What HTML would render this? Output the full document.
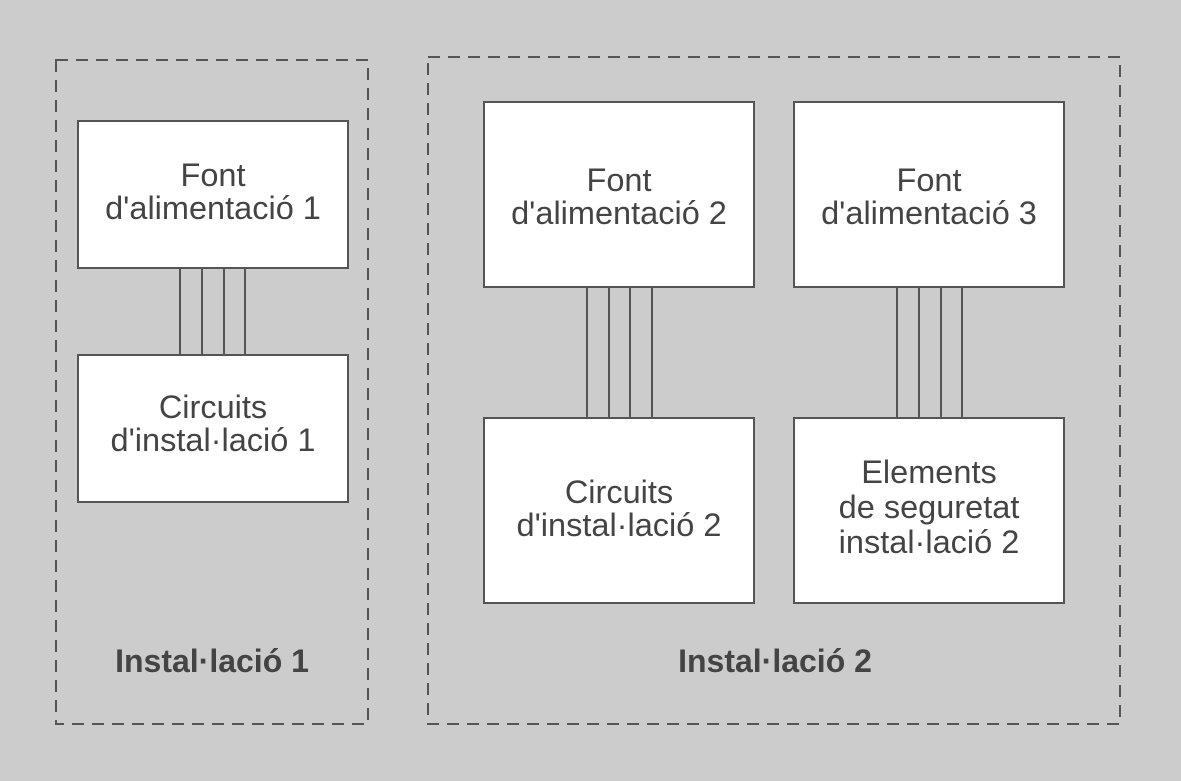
<!DOCTYPE html>
<html><head><meta charset="utf-8"><style>
html,body{margin:0;padding:0;background:#cccccc;}
svg{display:block;}
text{font-family:"Liberation Sans",sans-serif;fill:#444;}
</style></head><body>
<svg width="1181" height="781" viewBox="0 0 1181 781" xmlns="http://www.w3.org/2000/svg">
<rect width="1181" height="781" fill="#cccccc"/>
<g fill="none" stroke="#555" stroke-width="2" stroke-dasharray="12,8">
<rect x="56" y="60" width="312" height="664"/>
<rect x="428" y="57" width="692" height="667"/>
</g>
<g stroke="#555" stroke-width="2">
<line x1="180" y1="268" x2="180" y2="355"/><line x1="202" y1="268" x2="202" y2="355"/><line x1="224" y1="268" x2="224" y2="355"/><line x1="245" y1="268" x2="245" y2="355"/>
<line x1="587" y1="287" x2="587" y2="418"/><line x1="609" y1="287" x2="609" y2="418"/><line x1="630" y1="287" x2="630" y2="418"/><line x1="652" y1="287" x2="652" y2="418"/>
<line x1="897" y1="287" x2="897" y2="418"/><line x1="919" y1="287" x2="919" y2="418"/><line x1="941" y1="287" x2="941" y2="418"/><line x1="962" y1="287" x2="962" y2="418"/>
</g>
<g fill="#fff" stroke="#555" stroke-width="2">
<rect x="78" y="121" width="270" height="147"/>
<rect x="78" y="355" width="270" height="147"/>
<rect x="484" y="102" width="270" height="185"/>
<rect x="484" y="418" width="270" height="185"/>
<rect x="794" y="102" width="270" height="185"/>
<rect x="794" y="418" width="270" height="185"/>
</g>
<g font-size="32.5" text-anchor="middle">
<text x="213" y="186">Font</text><text x="213" y="219">d'alimentació 1</text>
<text x="213" y="418">Circuits</text><text x="213" y="451">d'instal·lació 1</text>
<text x="619" y="191">Font</text><text x="619" y="224">d'alimentació 2</text>
<text x="929" y="191">Font</text><text x="929" y="224">d'alimentació 3</text>
<text x="619" y="503">Circuits</text><text x="619" y="536">d'instal·lació 2</text>
<text x="929" y="483">Elements</text><text x="929" y="518">de seguretat</text><text x="929" y="553">instal·lació 2</text>
</g>
<g font-size="32" font-weight="bold" text-anchor="middle">
<text x="212" y="672">Instal·lació 1</text>
<text x="775" y="672">Instal·lació 2</text>
</g>
</svg>
</body></html>
